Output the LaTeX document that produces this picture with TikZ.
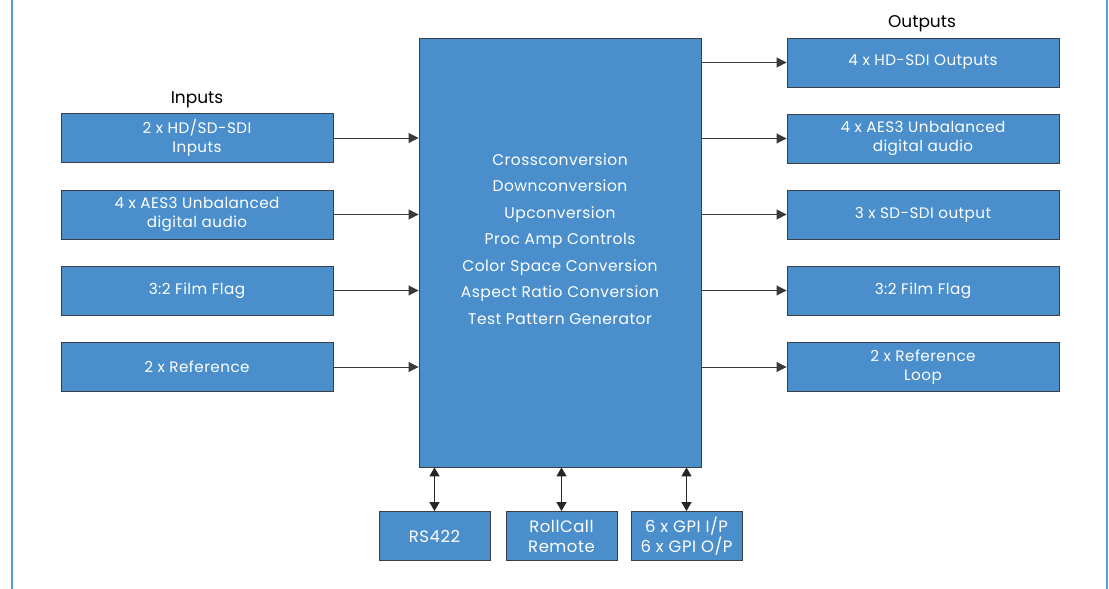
\documentclass[tikz,border=0pt]{standalone}
\usepackage{fontspec}
\setmainfont{Poppins}
\usepackage{xcolor}
\usetikzlibrary{arrows.meta}
\definecolor{boxfill}{HTML}{4A8FCC}
\definecolor{boxline}{HTML}{3A3F45}
\definecolor{frame}{HTML}{5B9BD5}
\definecolor{wire}{HTML}{3A3A3A}
\tikzset{
  blk/.style={draw=boxline, fill=boxfill, line width=0.9pt, inner sep=0pt,
    minimum width=272pt, minimum height=49pt, align=center,
    text=white, font=\fontsize{15.2}{19.5}\selectfont\addfontfeature{LetterSpace=3}},
  small/.style={blk, minimum width=111pt, font=\fontsize{16.5}{20}\selectfont\addfontfeature{LetterSpace=3}},
  head/.style={text=black, font=\fontsize{17}{20}\selectfont},
  feed/.style={draw=wire, line width=0.9pt, -{Triangle[length=10pt,width=10pt]}},
  link/.style={draw=black!85, line width=1.5pt,
    {Triangle[length=9pt,width=10pt]}-{Triangle[length=9pt,width=10pt]}},
  rim/.style={draw=frame, line width=2pt}
}
\begin{document}
\begin{tikzpicture}[x=1pt,y=-1pt]
  \useasboundingbox (0,0) rectangle (1109,589);
  \draw[rim] (12,0) -- (12,589);
  \draw[rim] (1107,0) -- (1107,589);

  % processing core
  \node[blk, minimum width=282pt, minimum height=429pt] (core) at (560,252.5) {};
  \node[text=white, font=\fontsize{15.5}{26.5}\selectfont\addfontfeature{LetterSpace=3}, align=center] (coretext) at (560,239)
    {Crossconversion\\Downconversion\\Upconversion\\Proc Amp Controls\\Color Space Conversion\\Aspect Ratio Conversion\\Test Pattern Generator};

  % inputs
  \node[head] (inhead) at (197,100) {Inputs};
  \node[blk] (in1) at (197,138) {2 x HD/SD-SDI\\Inputs};
  \node[blk] (in2) at (197,214.5) {4 x AES3 Unbalanced\\digital audio};
  \node[blk] (in3) at (197,290.5) {3:2 Film Flag};
  \node[blk] (in4) at (197,367) {2 x Reference};

  % outputs
  \node[head] (outhead) at (922,24) {Outputs};
  \node[blk] (out1) at (923,62.5) {4 x HD-SDI Outputs};
  \node[blk] (out2) at (923,138.5) {4 x AES3 Unbalanced\\digital audio};
  \node[blk] (out3) at (923,214.5) {3 x SD-SDI output};
  \node[blk] (out4) at (923,290.5) {3:2 Film Flag};
  \node[blk] (out5) at (923,367) {2 x Reference\\Loop};

  % control
  \node[small] (rs) at (434.5,536) {RS422};
  \node[small] (rc) at (561.5,536) {RollCall\\Remote};
  \node[small] (gpi) at (686.5,536) {6 x GPI I/P\\6 x GPI O/P};

  \foreach \i in {1,...,4}
    \draw[feed] (in\i.east) -- (in\i.east -| core.west);
  \foreach \i in {1,...,5}
    \draw[feed] (out\i.west -| core.east) -- (out\i.west);
  \draw[link] (core.south -| rs) -- (rs.north);
  \draw[link] (core.south -| rc) -- (rc.north);
  \draw[link] (core.south -| gpi) -- (gpi.north);
\end{tikzpicture}
\end{document}
